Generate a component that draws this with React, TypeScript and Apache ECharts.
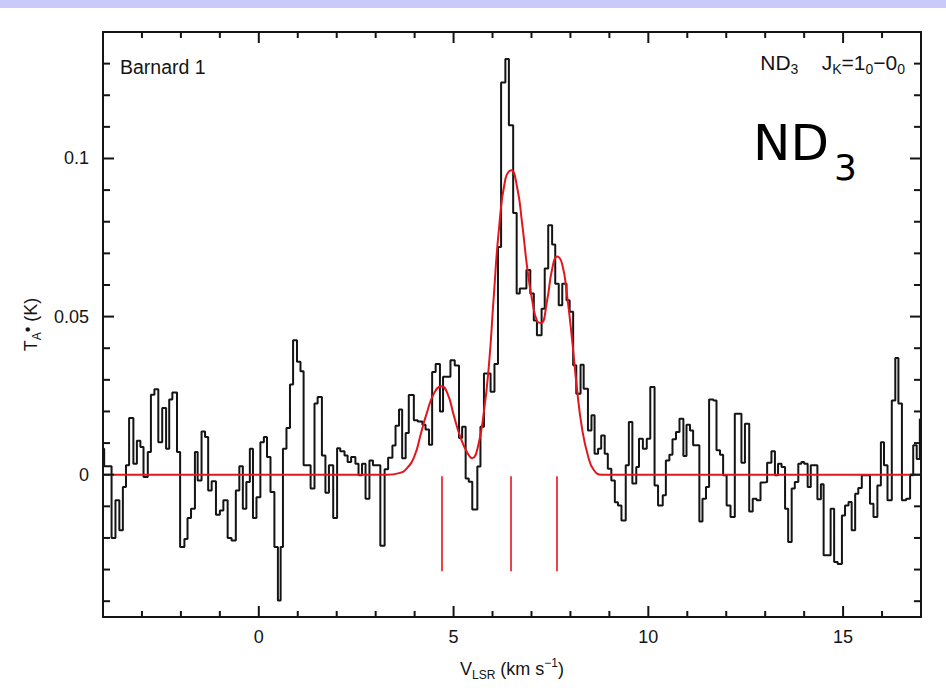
import React, { useEffect, useRef } from "react";
import * as echarts from "echarts";

// Spectrum: channel left edges (km/s) and antenna temperature (K); value held until the next edge
const specVel = [
  -4.05, -3.97, -3.78, -3.68, -3.58, -3.49, -3.41, -3.33, -3.22, -3.13, -3.04, -2.96, -2.85, -2.77, -2.68,
  -2.58, -2.48, -2.38, -2.30, -2.22, -2.10, -2.02, -1.91, -1.83, -1.74, -1.64, -1.57, -1.47, -1.38, -1.30,
  -1.21, -1.10, -1.00, -0.91, -0.80, -0.70, -0.59, -0.50, -0.41, -0.32, -0.23, -0.15, -0.06, 0.04, 0.13,
  0.21, 0.30, 0.40, 0.49, 0.56, 0.62, 0.71, 0.80, 0.88, 0.98, 1.07, 1.15, 1.33, 1.43, 1.51,
  1.62, 1.71, 1.80, 1.91, 2.01, 2.09, 2.20, 2.28, 2.37, 2.48, 2.56, 2.65, 2.74, 2.84, 2.93,
  3.12, 3.23, 3.32, 3.43, 3.51, 3.60, 3.68, 3.77, 3.85, 3.98, 4.08, 4.20, 4.28, 4.37, 4.45,
  4.54, 4.65, 4.73, 4.92, 5.03, 5.14, 5.22, 5.31, 5.39, 5.48, 5.61, 5.69, 5.78, 5.95, 6.05,
  6.14, 6.22, 6.33, 6.42, 6.53, 6.62, 6.70, 6.87, 6.97, 7.06, 7.14, 7.26, 7.34, 7.43, 7.53,
  7.61, 7.70, 7.79, 7.90, 7.98, 8.07, 8.15, 8.26, 8.34, 8.45, 8.54, 8.62, 8.71, 8.79, 8.88,
  8.96, 9.05, 9.14, 9.22, 9.31, 9.42, 9.50, 9.59, 9.69, 9.76, 9.86, 9.96, 10.05, 10.16, 10.25,
  10.37, 10.45, 10.54, 10.62, 10.71, 10.80, 10.90, 10.98, 11.07, 11.15, 11.31, 11.39, 11.48, 11.56, 11.67,
  11.75, 11.84, 11.92, 12.01, 12.11, 12.22, 12.39, 12.48, 12.59, 12.68, 12.78, 12.88, 12.97, 13.05, 13.16,
  13.25, 13.33, 13.42, 13.51, 13.59, 13.68, 13.76, 13.85, 13.93, 14.00, 14.09, 14.17, 14.26, 14.34, 14.43,
  14.50, 14.68, 14.77, 14.86, 14.97, 15.05, 15.14, 15.22, 15.31, 15.39, 15.48, 15.69, 15.78, 15.88, 15.97,
  16.05, 16.14, 16.25, 16.34, 16.42, 16.51, 16.62, 16.72, 16.80, 16.89, 16.97, 17.05,
];
const specTa = [
  0.0082, 0.0027, -0.0200, -0.0081, -0.0176, -0.0039, 0.0030, 0.0179, 0.0035, 0.0107, 0.0088, -0.0007, 0.0072, 0.0253, 0.0270,
  0.0103, 0.0211, 0.0082, 0.0238, 0.0260, 0.0072, -0.0229, -0.0203, -0.0137, -0.0108, 0.0072, -0.0018, 0.0137, 0.0119, -0.0050,
  -0.0021, -0.0127, -0.0113, -0.0081, -0.0200, -0.0208, -0.0050, 0.0027, -0.0108, -0.0023, 0.0082, -0.0137, -0.0071, 0.0103, 0.0119,
  0.0056, -0.0055, -0.0229, -0.0398, -0.0229, 0.0082, 0.0148, 0.0285, 0.0425, 0.0357, 0.0327, 0.0030, -0.0044, 0.0225, 0.0246,
  0.0061, -0.0057, 0.0030, -0.0137, 0.0084, 0.0074, 0.0061, 0.0040, 0.0056, 0.0035, -0.0002, 0.0035, -0.0076, 0.0045, 0.0030,
  -0.0225, 0.0017, 0.0054, 0.0092, 0.0155, 0.0206, 0.0052, 0.0132, 0.0252, 0.0172, 0.0168, 0.0158, 0.0143, 0.0095, 0.0325,
  0.0350, 0.0200, 0.0310, 0.0362, 0.0345, 0.0116, 0.0152, -0.0012, -0.0022, -0.0110, 0.0026, 0.0152, 0.0320, 0.0262, 0.0350,
  0.0720, 0.1240, 0.1315, 0.1105, 0.0828, 0.0573, 0.0589, 0.0647, 0.0573, 0.0488, 0.0441, 0.0525, 0.0652, 0.0789, 0.0728,
  0.0604, 0.0536, 0.0604, 0.0552, 0.0515, 0.0346, 0.0256, 0.0348, 0.0272, 0.0140, 0.0188, 0.0066, 0.0082, 0.0124, 0.0066,
  0.0019, -0.0018, -0.0087, -0.0097, -0.0145, 0.0030, 0.0167, -0.0028, 0.0024, 0.0114, 0.0082, 0.0114, 0.0277, -0.0034, -0.0097,
  -0.0065, 0.0045, 0.0063, 0.0112, 0.0135, 0.0177, 0.0059, 0.0158, 0.0140, 0.0093, -0.0148, -0.0076, -0.0039, 0.0238, 0.0235,
  0.0077, 0.0063, -0.0002, -0.0097, -0.0134, 0.0193, 0.0038, 0.0161, -0.0116, -0.0076, -0.0081, -0.0025, -0.0023, 0.0038, 0.0074,
  -0.0002, 0.0035, 0.0024, -0.0108, -0.0213, -0.0044, -0.0023, 0.0035, 0.0040, 0.0035, -0.0039, 0.0030, 0.0030, -0.0078, -0.0030,
  -0.0255, -0.0108, -0.0276, -0.0282, -0.0129, -0.0097, -0.0086, -0.0176, -0.0060, -0.0042, -0.0002, -0.0092, -0.0134, -0.0034, 0.0103,
  0.0030, -0.0081, 0.0235, 0.0369, 0.0225, -0.0081, -0.0076, -0.0002, 0.0093, 0.0050, 0.0175, 0.0175,
];

// Hyperfine fit (red curve)
const fitVel = [-4, 3.0, 3.3, 3.6, 3.8, 4.0, 4.15, 4.3, 4.5, 4.69, 4.85, 5.0, 5.18, 5.35, 5.48, 5.62, 5.78, 5.91, 6.03, 6.16, 6.33, 6.48, 6.63, 6.76, 6.89, 7.02, 7.15, 7.25, 7.4, 7.53, 7.66, 7.79, 7.91, 8.04, 8.17, 8.3, 8.45, 8.6, 8.8, 9.1, 17];
const fitTa = [0, 0, 0, 0.0005, 0.002, 0.006, 0.0125, 0.019, 0.0258, 0.028, 0.0255, 0.019, 0.0117, 0.007, 0.0052, 0.0085, 0.02, 0.035, 0.056, 0.077, 0.0935, 0.0963, 0.091, 0.0795, 0.0655, 0.055, 0.0485, 0.048, 0.055, 0.065, 0.069, 0.0665, 0.057, 0.043, 0.027, 0.0145, 0.006, 0.0015, 0, 0, 0];

// Hyperfine component positions (red markers)
const hfVel = [4.69, 6.48, 7.66];
const hfTop = -0.0005;
const hfBottom = -0.0305;

// Axes
const X_MIN = -4, X_MAX = 17, Y_MIN = -0.045, Y_MAX = 0.14;
const xMajor = [0, 5, 10, 15];
const xMinor = [-3, -2, -1, 1, 2, 3, 4, 6, 7, 8, 9, 11, 12, 13, 14, 16];
const xTickLabels = ["0", "5", "10", "15"];
const yMajor = [0, 0.05, 0.1];
const yMinor = [-0.04, -0.03, -0.02, -0.01, 0.01, 0.02, 0.03, 0.04, 0.06, 0.07, 0.08, 0.09, 0.11, 0.12, 0.13];
const yTickLabels = ["0", "0.05", "0.1"];

const INK = "#141414";
const RED = "#e3161c";
const FONT = '"Liberation Sans", Arial, sans-serif';
const X_MINOR_LEN = 6, X_MAJOR_LEN = 11, Y_MINOR_LEN = 7, Y_MAJOR_LEN = 11;

export default function App() {
  const ref = useRef<HTMLDivElement>(null);
  useEffect(() => {
    if (!ref.current) return;
    const chart = echarts.init(ref.current, undefined, { renderer: "svg" });
    const axLine = { color: INK, width: 2 };

    const baseGraphics: any[] = [
      { id: "band", type: "rect", left: 0, top: 0, shape: { width: 946, height: 8 }, style: { fill: "#cacafa" } },
      {
        id: "src",
        type: "text",
        left: 120,
        top: 57,
        style: { text: "Barnard 1", fontSize: 19.5, fontFamily: FONT, fill: INK },
      },
      {
        id: "trans",
        type: "text",
        right: 41,
        top: 52,
        style: {
          text: "{t|ND}{s|3}{t|    J}{s|K}{t|=1}{s|0}{t|−0}{s|0}",
          rich: {
            t: { fontSize: 21, lineHeight: 27, fontFamily: FONT, fill: INK },
            s: { fontSize: 14, lineHeight: 15, verticalAlign: "bottom", fontFamily: FONT, fill: INK },
          },
        },
      },
      {
        id: "bigND",
        type: "text",
        left: 753,
        top: 118,
        style: { text: "ND", fontSize: 50, fontFamily: '"DejaVu Sans", sans-serif', fill: "#000" },
      },
      {
        id: "big3",
        type: "text",
        left: 834,
        top: 149,
        style: { text: "3", fontSize: 36, fontFamily: '"DejaVu Sans", sans-serif', fill: "#000" },
      },
    ];

    const option: any = {
      animation: false,
      backgroundColor: "#ffffff",
      grid: { left: 103, right: 25, top: 32, bottom: 81, containLabel: false },
      xAxis: [
        {
          type: "value",
          position: "bottom",
          min: X_MIN,
          max: X_MAX,
          axisLine: { show: true, onZero: false, lineStyle: axLine },
          axisTick: { show: false },
          axisLabel: {
            show: true,
            customValues: xMajor,
            formatter: (v: number) => xTickLabels[xMajor.indexOf(v)] ?? "",
            margin: 11,
            fontSize: 18,
            color: INK,
            fontFamily: FONT,
          },
          splitLine: { show: false },
          name: "{v|V}{s|LSR}{v| (km s}{p|−1}{v|)}",
          nameLocation: "middle",
          nameGap: 40,
          nameTextStyle: {
            fontFamily: FONT,
            color: INK,
            rich: {
              v: { fontSize: 18, lineHeight: 24, fontFamily: FONT, color: INK },
              s: { fontSize: 12, lineHeight: 13, verticalAlign: "bottom", fontFamily: FONT, color: INK },
              p: { fontSize: 12, lineHeight: 13, verticalAlign: "top", fontFamily: FONT, color: INK },
            },
          },
        },
        {
          type: "value",
          position: "top",
          min: X_MIN,
          max: X_MAX,
          axisLine: { show: true, onZero: false, lineStyle: axLine },
          axisTick: { show: false },
          axisLabel: { show: false },
          splitLine: { show: false },
        },
      ],
      yAxis: [
        {
          type: "value",
          position: "left",
          min: Y_MIN,
          max: Y_MAX,
          axisLine: { show: true, onZero: false, lineStyle: axLine },
          axisTick: { show: false },
          axisLabel: {
            show: true,
            customValues: yMajor,
            formatter: (v: number) => {
              const i = yMajor.findIndex((m) => Math.abs(m - v) < 1e-9);
              return i >= 0 ? yTickLabels[i] : "";
            },
            margin: 14,
            fontSize: 18,
            color: INK,
            fontFamily: FONT,
          },
          splitLine: { show: false },
          name: "{v|T}{s|A}{p|•}{v| (K)}",
          nameLocation: "middle",
          nameGap: 60,
          nameRotate: 90,
          nameTextStyle: {
            fontFamily: FONT,
            color: INK,
            rich: {
              v: { fontSize: 18, lineHeight: 24, fontFamily: FONT, color: INK },
              s: { fontSize: 12, lineHeight: 13, verticalAlign: "bottom", fontFamily: FONT, color: INK },
              p: { fontSize: 16, lineHeight: 14, verticalAlign: "top", fontFamily: FONT, color: INK },
            },
          },
        },
        {
          type: "value",
          position: "right",
          min: Y_MIN,
          max: Y_MAX,
          axisLine: { show: true, onZero: false, lineStyle: axLine },
          axisTick: { show: false },
          axisLabel: { show: false },
          splitLine: { show: false },
        },
      ],
      series: [
        {
          type: "line",
          name: "spectrum",
          xAxisIndex: 0,
          yAxisIndex: 0,
          step: "end",
          showSymbol: false,
          symbol: "none",
          clip: true,
          lineStyle: { color: INK, width: 2 },
          data: specVel.map((v, i) => [v, specTa[i]]),
          z: 3,
        },
        {
          type: "line",
          name: "fit",
          xAxisIndex: 0,
          yAxisIndex: 0,
          smooth: 0.5,
          showSymbol: false,
          symbol: "none",
          clip: true,
          lineStyle: { color: RED, width: 2 },
          data: fitVel.map((v, i) => [v, fitTa[i]]),
          z: 4,
          markLine: {
            silent: true,
            symbol: "none",
            label: { show: false },
            lineStyle: { color: RED, width: 1.6, type: "solid" },
            data: hfVel.map((v) => [{ coord: [v, hfTop] }, { coord: [v, hfBottom] }]),
          },
        },
      ],
      graphic: baseGraphics,
    };
    chart.setOption(option);

    // Tick marks on all four sides, positioned through the axes' own scales
    const toPx = (p: number[]) => chart.convertToPixel({ xAxisIndex: 0, yAxisIndex: 0 }, p) as number[];
    const tickStyle = { stroke: INK, lineWidth: 2 };
    const ticks: any[] = [];
    const addX = (v: number, len: number) => {
      const b = toPx([v, Y_MIN]);
      const t = toPx([v, Y_MAX]);
      ticks.push({ type: "line", z: 10, shape: { x1: b[0], y1: b[1], x2: b[0], y2: b[1] - len }, style: tickStyle });
      ticks.push({ type: "line", z: 10, shape: { x1: t[0], y1: t[1], x2: t[0], y2: t[1] + len }, style: tickStyle });
    };
    const addY = (v: number, len: number) => {
      const l = toPx([X_MIN, v]);
      const r = toPx([X_MAX, v]);
      ticks.push({ type: "line", z: 10, shape: { x1: l[0], y1: l[1], x2: l[0] + len, y2: l[1] }, style: tickStyle });
      ticks.push({ type: "line", z: 10, shape: { x1: r[0], y1: r[1], x2: r[0] - len, y2: r[1] }, style: tickStyle });
    };
    xMinor.forEach((v) => addX(v, X_MINOR_LEN));
    xMajor.forEach((v) => addX(v, X_MAJOR_LEN));
    yMinor.forEach((v) => addY(v, Y_MINOR_LEN));
    yMajor.forEach((v) => addY(v, Y_MAJOR_LEN));
    chart.setOption({ graphic: [...baseGraphics, ...ticks] });

    return () => chart.dispose();
  }, []);
  return (
    <div
      ref={ref}
      style={{ position: "fixed", left: 0, top: 0, width: 946, height: 698, background: "#fff" }}
    />
  );
}
